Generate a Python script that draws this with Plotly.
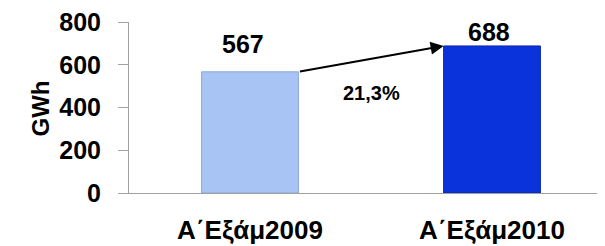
import plotly.graph_objects as go

categories = ["Α΄Εξάμ2009", "Α΄Εξάμ2010"]
values = [567, 688]
bar_colors = ["#a8c4f4", "#0b33dc"]
growth_label = "21,3%"
y_ticks = [0, 200, 400, 600, 800]

FONT = "Liberation Sans, Arial"

fig = go.Figure()
fig.add_trace(go.Bar(
    x=[0, 1], y=values, width=0.4,
    marker=dict(color=bar_colors, line=dict(color=["#8ba7dc", "#0a26b0"], width=1)),
    hoverinfo="skip",
))

# value labels
for i, (v, xs, ys) in enumerate(zip(values, [-7, -3], [28, 14])):
    fig.add_annotation(
        x=i, y=v, xref="x", yref="y", text="<b>%d</b>" % v, showarrow=False,
        xshift=xs, yshift=ys, yanchor="middle",
        font=dict(family=FONT, size=25, color="black"),
    )

# growth arrow from top-right of bar 1 to top-left of bar 2
fig.add_annotation(
    x=0.8, y=values[1], ax=0.2, ay=values[0], xref="x", yref="y", axref="x", ayref="y",
    showarrow=True, arrowhead=2, arrowsize=1.3, arrowwidth=2, arrowcolor="black", text="",
    standoff=0, startstandoff=0,
)
fig.add_annotation(
    x=0.504, y=468, xref="x", yref="y", text="<b>" + growth_label + "</b>", showarrow=False,
    font=dict(family=FONT, size=20, color="black"),
)
# y axis title
fig.add_annotation(
    x=-0.215, y=0.497, xref="paper", yref="paper", text="<b>GWh</b>", showarrow=False,
    textangle=-90, font=dict(family=FONT, size=24, color="black"),
)

fig.update_layout(
    width=605, height=246,
    margin=dict(l=121, r=0, t=14, b=61),
    paper_bgcolor="white", plot_bgcolor="white",
    showlegend=False,
    font=dict(family=FONT, color="black"),
)
fig.update_xaxes(
    range=[-0.5, 1.5], tickmode="array", tickvals=[0, 1],
    ticktext=["<b>" + c + "</b>" for c in categories],
    tickfont=dict(size=26), showline=True, linecolor="#a0a0a0", linewidth=1,
    ticks="", showgrid=False, zeroline=False, ticklabelstandoff=14, automargin=False,
    ticklabeloverflow="allow",
)
fig.update_yaxes(
    range=[0, 800], tickvals=y_ticks, ticktext=["<b>%d</b>" % t for t in y_ticks],
    tickfont=dict(size=25), showline=True, linecolor="#a0a0a0", linewidth=1,
    ticks="outside", ticklen=10, tickcolor="#a0a0a0", showgrid=False, zeroline=False,
    ticklabelstandoff=12, automargin=False, ticklabeloverflow="allow",
)

fig.write_html("out.html")
